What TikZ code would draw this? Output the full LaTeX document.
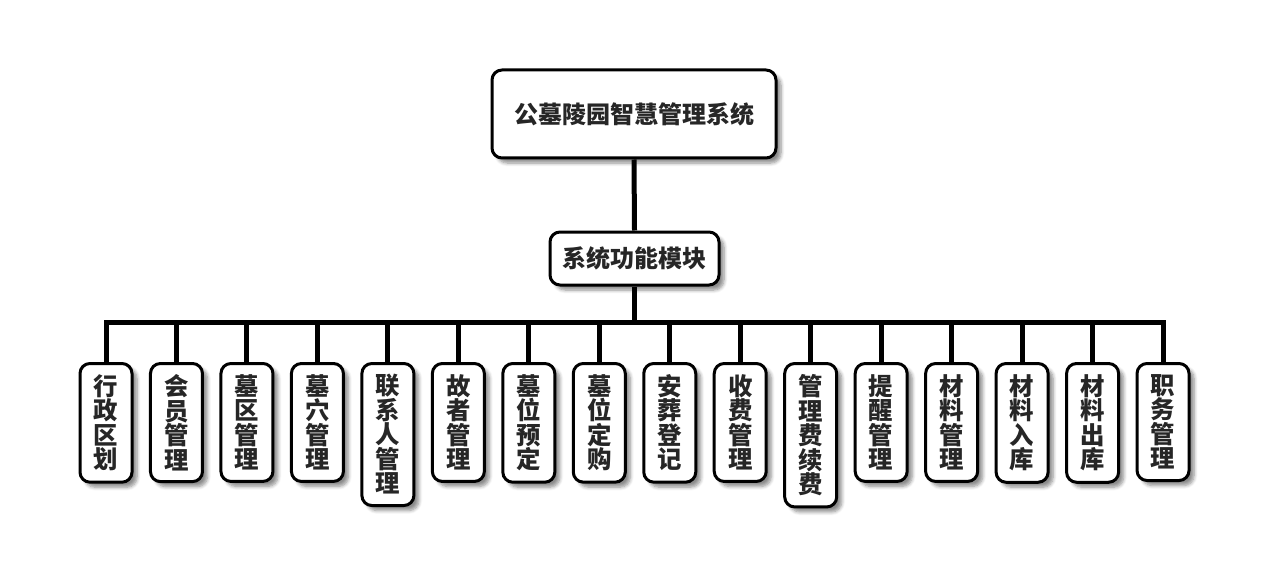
\documentclass[tikz,border=0pt]{standalone}
\usepackage{fontspec}
\newfontfamily\cjk{Noto Sans CJK SC}
\usetikzlibrary{positioning}
\usetikzlibrary{shadows.blur}

\begin{document}
\begin{tikzpicture}[x=0.5pt,y=-0.5pt,font=\cjk\bfseries, semithick]
	\tikzstyle{box}=[draw, line width=1.5pt, rounded corners=5pt, fill=white, text=black!85,
		blur shadow={shadow xshift=2.5pt, shadow yshift=-2.5pt, shadow blur steps=6, shadow opacity=45}]
	\tikzstyle{leaf}=[box, anchor=north, minimum width=26pt, inner xsep=0pt, inner ysep=5.5pt,
		align=center, font=\cjk\bfseries\fontsize{12.2pt}{12.25pt}\selectfont]
	\tikzstyle{link}=[draw, line width=2.5pt]
	\useasboundingbox (0,0) rectangle (1269,583);

	\node[box, minimum width=142pt, minimum height=44pt, font=\cjk\bfseries\fontsize{12pt}{14pt}\selectfont] (root) at (634,114) {公墓陵园智慧管理系统};
	\node[box, minimum width=84.5pt, minimum height=26.5pt, font=\cjk\bfseries\fontsize{12pt}{14pt}\selectfont] (func) at (634.5,258.5) {系统功能模块};
	\coordinate (bus) at (634.5,322);

	\foreach \name/\txt [count=\i from 0] in {
		c1/{行\\政\\区\\划}, c2/{会\\员\\管\\理}, c3/{墓\\区\\管\\理}, c4/{墓\\穴\\管\\理},
		c5/{联\\系\\人\\管\\理}, c6/{故\\者\\管\\理}, c7/{墓\\位\\预\\定}, c8/{墓\\位\\定\\购},
		c9/{安\\葬\\登\\记}, c10/{收\\费\\管\\理}, c11/{管\\理\\费\\续\\费}, c12/{提\\醒\\管\\理},
		c13/{材\\料\\管\\理}, c14/{材\\料\\入\\库}, c15/{材\\料\\出\\库}, c16/{职\\务\\管\\理}}
		\node[leaf] (\name) at (106+70.47*\i,362) {\txt};

	% connectors
	\path[link] (root.south) -- (func.north);
	\path[link] (func.south) -- (bus);
	\foreach \name in {c1,c2,c3,c4,c5,c6,c7,c8,c9,c10,c11,c12,c13,c14,c15,c16}
		\path[link] (bus) -| (\name.north);
\end{tikzpicture}
\end{document}
